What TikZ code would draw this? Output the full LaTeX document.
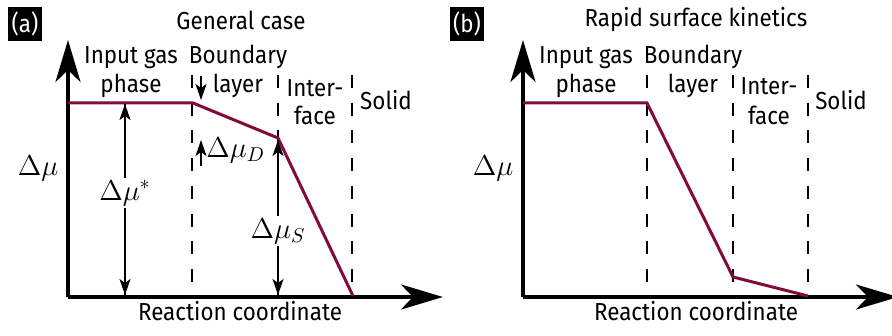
\documentclass[tikz,border=0pt]{standalone}
\usepackage{fontspec}
\setmainfont{Fira Sans}[FakeStretch=0.91]
\usepackage{tikz}
\usetikzlibrary{arrows.meta}
\definecolor{wine}{RGB}{130,10,60}

\tikzset{
  axisline/.style={line width=2pt,-{Stealth[length=21pt,width=12.5pt,inset=6pt]}},
  curve/.style={wine,line width=1.5pt,line join=miter},
  zoneline/.style={line width=1pt,dash pattern=on 6.5pt off 7.35pt},
  gaparrow/.style={line width=0.75pt,-{Stealth[length=8pt,width=5.5pt,inset=2pt]}},
  lbl/.style={font=\fontsize{12.3pt}{14pt}\selectfont,inner sep=0pt,anchor=base},
  mathlbl/.style={font=\fontsize{14pt}{16pt}\selectfont,inner sep=1pt},
  tagbox/.style={fill=black,text=white,minimum size=17pt,inner sep=0pt,font=\fontsize{12.3pt}{14pt}\selectfont}
}

\begin{document}
\begin{tikzpicture}[x=0.5pt,y=-0.5pt]
			\useasboundingbox (0,0) rectangle (892,336);

			% (a) general case
			\node[tagbox] (tagA) at (25,24) {(a)};
			\node[lbl] (titleA) at (241,30) {General case};

			\coordinate (originA) at (68,297);
			\coordinate (topA) at (68,40);
			\coordinate (endA) at (443,297);
			\draw[axisline] (originA) -- (topA);
			\draw[axisline] (originA) -- (endA);

			\draw[zoneline] (192,75) -- (192,283);
			\draw[zoneline] (278,75) -- (278,283);
			\draw[zoneline] (352,75) -- (352,283);

			\coordinate (gasA) at (68,103);
			\coordinate (blA) at (193,103);
			\coordinate (ifA) at (278,138);
			\coordinate (solA) at (353,296);
			\draw[curve] (gasA) -- (blA) -- (ifA) -- (solA);

			\node[lbl] (inputA) at (131,64) {Input gas};
			\node[lbl] (phaseA) at (131,93) {phase};
			\node[lbl] (boundA) at (238,64) {Boundary};
			\node[lbl] (layerA) at (238,93) {layer};
			\node[lbl] (interA) at (315,97) {Inter-};
			\node[lbl] (faceA) at (315,125) {face};
			\node[lbl] (solidA) at (386,110) {Solid};
			\node[lbl] (rcA) at (240,320) {Reaction coordinate};
			\node[mathlbl] (muA) at (38,168) {$\Delta\mu$};

			\coordinate (starTop) at (125,104);
			\coordinate (starBot) at (125,295);
			\draw[gaparrow] (starTop) -- (starBot);
			\draw[gaparrow] (starBot) -- (starTop);
			\node[mathlbl,fill=white] (muStar) at (125,193) {$\Delta\mu^*$};

			\coordinate (dTopA) at (201,76);
			\coordinate (dTopB) at (201,100);
			\coordinate (dBotA) at (201,166);
			\coordinate (dBotB) at (201,140);
			\draw[gaparrow] (dTopA) -- (dTopB);
			\draw[gaparrow] (dBotA) -- (dBotB);
			\node[mathlbl,anchor=west] (muD) at (204,150) {$\Delta\mu_D$};

			\coordinate (sTop) at (278,140);
			\coordinate (sBot) at (278,295);
			\draw[gaparrow] (sTop) -- (sBot);
			\draw[gaparrow] (sBot) -- (sTop);
			\node[mathlbl,fill=white] (muS) at (278,231) {$\Delta\mu_S$};

			% (b) rapid surface kinetics
			\node[tagbox] (tagB) at (467,24) {(b)};
			\node[lbl] (titleB) at (696,27) {Rapid surface kinetics};

			\coordinate (originB) at (523,297);
			\coordinate (topB) at (523,40);
			\coordinate (endB) at (898,297);
			\draw[axisline] (originB) -- (topB);
			\draw[axisline] (originB) -- (endB);

			\draw[zoneline] (647,75) -- (647,283);
			\draw[zoneline] (733,75) -- (733,283);
			\draw[zoneline] (808,75) -- (808,283);

			\coordinate (gasB) at (523,103);
			\coordinate (blB) at (647,103);
			\coordinate (ifB) at (733,277);
			\coordinate (solB) at (808,296);
			\draw[curve] (gasB) -- (blB) -- (ifB) -- (solB);

			\node[lbl] (inputB) at (586,64) {Input gas};
			\node[lbl] (phaseB) at (586,93) {phase};
			\node[lbl] (boundB) at (693,64) {Boundary};
			\node[lbl] (layerB) at (693,93) {layer};
			\node[lbl] (interB) at (769,95) {Inter-};
			\node[lbl] (faceB) at (769,125) {face};
			\node[lbl] (solidB) at (841,110) {Solid};
			\node[lbl] (rcB) at (696,320) {Reaction coordinate};
			\node[mathlbl] (muB) at (493,168) {$\Delta\mu$};

		\end{tikzpicture}
\end{document}
